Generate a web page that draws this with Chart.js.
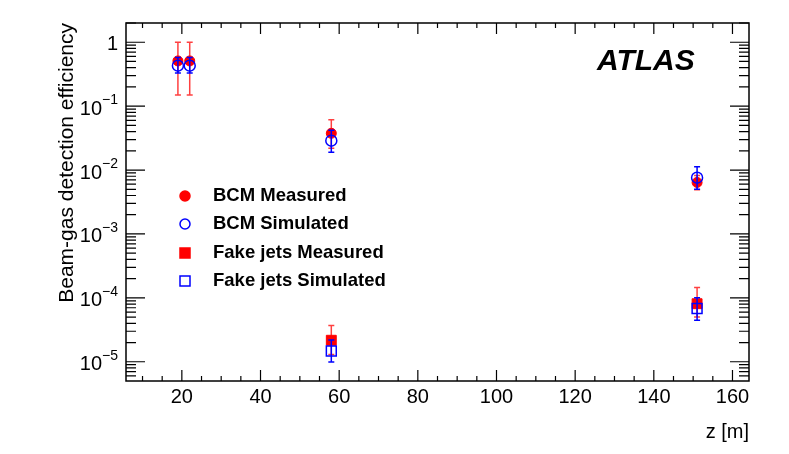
<!DOCTYPE html>
<html>
<head>
<meta charset="utf-8">
<title>Beam-gas detection efficiency</title>
<script src="https://cdn.jsdelivr.net/npm/chart.js@4.4.1/dist/chart.umd.min.js"></script>
<style>
  html, body { margin: 0; padding: 0; background: #fff; }
  canvas { display: block; }
</style>
</head>
<body>
<canvas id="chart" width="789" height="454"></canvas>
<script>
// z positions [m]
const zBCM = [19, 22, 58, 151];
const zJets = [58, 151];

// BCM efficiencies with asymmetric error bounds
const bcmMeasured = [0.51, 0.51, 0.0376, 0.0064];
const bcmMeasuredLo = [0.15, 0.15, 0.022, 0.0049];
const bcmMeasuredHi = [1.0, 1.0, 0.061, 0.0082];
const bcmSimulated = [0.43, 0.43, 0.0288, 0.0076];
const bcmSimulatedLo = [0.33, 0.33, 0.019, 0.0050];
const bcmSimulatedHi = [0.575, 0.575, 0.042, 0.0113];

// fake jets efficiencies
const jetsMeasured = [2.17e-5, 8.1e-5];
const jetsMeasuredLo = [1.3e-5, 5.0e-5];
const jetsMeasuredHi = [3.7e-5, 1.45e-4];
const jetsSimulated = [1.47e-5, 6.8e-5];
const jetsSimulatedLo = [9.9e-6, 4.45e-5];
const jetsSimulatedHi = [2.2e-5, 1.0e-4];

// axes
const xMajorTicks = [20, 40, 60, 80, 100, 120, 140, 160];
const xTickLabels = ['20', '40', '60', '80', '100', '120', '140', '160'];
const yDecades = [1e-5, 1e-4, 1e-3, 1e-2, 1e-1, 1];
const yTickLabels = [['10', '\u22125'], ['10', '\u22124'], ['10', '\u22123'], ['10', '\u22122'], ['10', '\u22121'], ['1', '']];

const RED = '#ff0000';
const BLUE = '#0000ff';
const FONT = '"Liberation Sans", Arial, Helvetica, sans-serif';

function points(xs, ys) {
    return xs.map((x, i) => ({ x: x, y: ys[i] }));
}

const errorBars = [
    { lo: bcmMeasuredLo, hi: bcmMeasuredHi, color: 'rgba(255,0,0,0.75)' },
    { lo: bcmSimulatedLo, hi: bcmSimulatedHi, color: BLUE },
    { lo: jetsMeasuredLo, hi: jetsMeasuredHi, color: 'rgba(255,0,0,0.75)' },
    { lo: jetsSimulatedLo, hi: jetsSimulatedHi, color: BLUE }
];

// error bars drawn just before each dataset's markers
const errorBarPlugin = {
    id: 'errorBars',
    beforeDatasetDraw(chart, args) {
        const eb = errorBars[args.index];
        const ds = chart.data.datasets[args.index];
        const xs = chart.scales.x, ys = chart.scales.y;
        const ctx = chart.ctx;
        ctx.save();
        ctx.strokeStyle = eb.color;
        ctx.lineWidth = 1.5;
        ds.data.forEach((p, i) => {
            const px = xs.getPixelForValue(p.x);
            const y0 = ys.getPixelForValue(eb.lo[i]);
            const y1 = ys.getPixelForValue(eb.hi[i]);
            ctx.beginPath();
            ctx.moveTo(px, y0); ctx.lineTo(px, y1);
            ctx.moveTo(px - 3, y0); ctx.lineTo(px + 3, y0);
            ctx.moveTo(px - 3, y1); ctx.lineTo(px + 3, y1);
            ctx.stroke();
        });
        ctx.restore();
    }
};

// ROOT-like frame, ticks, labels, legend and ATLAS label
const framePlugin = {
    id: 'frame',
    afterDraw(chart) {
        const ctx = chart.ctx;
        const a = chart.chartArea;
        const xs = chart.scales.x, ys = chart.scales.y;
        ctx.save();
        ctx.strokeStyle = '#000';
        ctx.lineWidth = 1.5;
        ctx.strokeRect(a.left, a.top, a.right - a.left, a.bottom - a.top);

        ctx.beginPath();
        ctx.lineWidth = 1.2;
        // x ticks: minor every 5, major every 20
        for (let v = 10; v <= 164; v += 5) {
            const px = xs.getPixelForValue(v);
            const len = xMajorTicks.includes(v) ? 11 : 5;
            ctx.moveTo(px, a.bottom); ctx.lineTo(px, a.bottom - len);
            ctx.moveTo(px, a.top); ctx.lineTo(px, a.top + len);
        }
        // y log ticks
        for (let e = -6; e <= 0; e++) {
            for (let m = 1; m <= 9; m++) {
                const v = m * Math.pow(10, e);
                if (v < ys.min || v > ys.max) continue;
                const py = ys.getPixelForValue(v);
                const len = m === 1 ? 19 : 10;
                ctx.moveTo(a.left, py); ctx.lineTo(a.left + len, py);
                ctx.moveTo(a.right, py); ctx.lineTo(a.right - len, py);
            }
        }
        ctx.stroke();

        ctx.fillStyle = '#000';
        // x tick labels
        ctx.font = '20px ' + FONT;
        ctx.textAlign = 'center';
        ctx.textBaseline = 'middle';
        xMajorTicks.forEach((v, i) => {
            ctx.fillText(xTickLabels[i], xs.getPixelForValue(v), 397);
        });
        // y tick labels
        yDecades.forEach((v, i) => {
            const py = ys.getPixelForValue(v);
            const [base, exp] = yTickLabels[i];
            const right = a.left - 8;
            ctx.textAlign = 'right';
            if (exp) {
                ctx.font = '14px ' + FONT;
                const ew = ctx.measureText(exp).width;
                ctx.fillText(exp, right, py - 6);
                ctx.font = '20px ' + FONT;
                ctx.fillText(base, right - ew, py + 3);
            } else {
                ctx.font = '20px ' + FONT;
                ctx.fillText(base, right, py + 2);
            }
        });

        // axis titles
        ctx.font = '20px ' + FONT;
        ctx.textAlign = 'right';
        ctx.fillText('z [m]', a.right, 432);
        ctx.save();
        ctx.font = '21px ' + FONT;
        ctx.translate(67, a.top);
        ctx.rotate(-Math.PI / 2);
        ctx.textAlign = 'right';
        ctx.fillText('Beam-gas detection efficiency', 0, 0);
        ctx.restore();

        // ATLAS label
        ctx.font = 'italic bold 30px ' + FONT;
        ctx.textAlign = 'left';
        ctx.fillText('ATLAS', 597, 62);

        // legend
        const rows = [196, 224, 253, 281];
        ctx.font = 'bold 18.5px ' + FONT;
        chart.data.datasets.forEach((ds, i) => {
            const y = rows[i];
            const x = 185;
            ctx.lineWidth = 1.5;
            ctx.strokeStyle = ds.borderColor;
            ctx.fillStyle = ds.backgroundColor;
            ctx.beginPath();
            if (ds.pointStyle === 'circle') {
                ctx.arc(x, y, 5, 0, Math.PI * 2);
            } else {
                ctx.rect(x - 5, y - 5, 10, 10);
            }
            if (ds.backgroundColor !== 'rgba(0,0,0,0)') ctx.fill();
            ctx.stroke();
            ctx.fillStyle = '#000';
            ctx.textAlign = 'left';
            ctx.fillText(ds.label, 213, y);
        });
        ctx.restore();
    }
};

new Chart(document.getElementById('chart'), {
    type: 'scatter',
    data: {
        datasets: [
            {
                label: 'BCM Measured', data: points(zBCM, bcmMeasured),
                pointStyle: 'circle', pointRadius: 5, borderWidth: 1,
                backgroundColor: RED, borderColor: RED, order: 4
            },
            {
                label: 'BCM Simulated', data: points(zBCM, bcmSimulated),
                pointStyle: 'circle', pointRadius: 5.5, borderWidth: 1.5,
                backgroundColor: 'rgba(0,0,0,0)', borderColor: BLUE, order: 3
            },
            {
                label: 'Fake jets Measured', data: points(zJets, jetsMeasured),
                pointStyle: 'rect', pointRadius: 7, borderWidth: 1,
                backgroundColor: RED, borderColor: RED, order: 2
            },
            {
                label: 'Fake jets Simulated', data: points(zJets, jetsSimulated),
                pointStyle: 'rect', pointRadius: 7, borderWidth: 1.5,
                backgroundColor: 'rgba(0,0,0,0)', borderColor: BLUE, order: 1
            }
        ]
    },
    options: {
        responsive: false,
        animation: false,
        layout: { padding: { left: 126, top: 23, right: 40, bottom: 73 } },
        scales: {
            x: { type: 'linear', min: 5.8, max: 164.2, display: false },
            y: { type: 'logarithmic', min: 5e-6, max: 2, display: false }
        },
        plugins: {
            legend: { display: false },
            tooltip: { enabled: false }
        }
    },
    plugins: [errorBarPlugin, framePlugin]
});
</script>
</body>
</html>
